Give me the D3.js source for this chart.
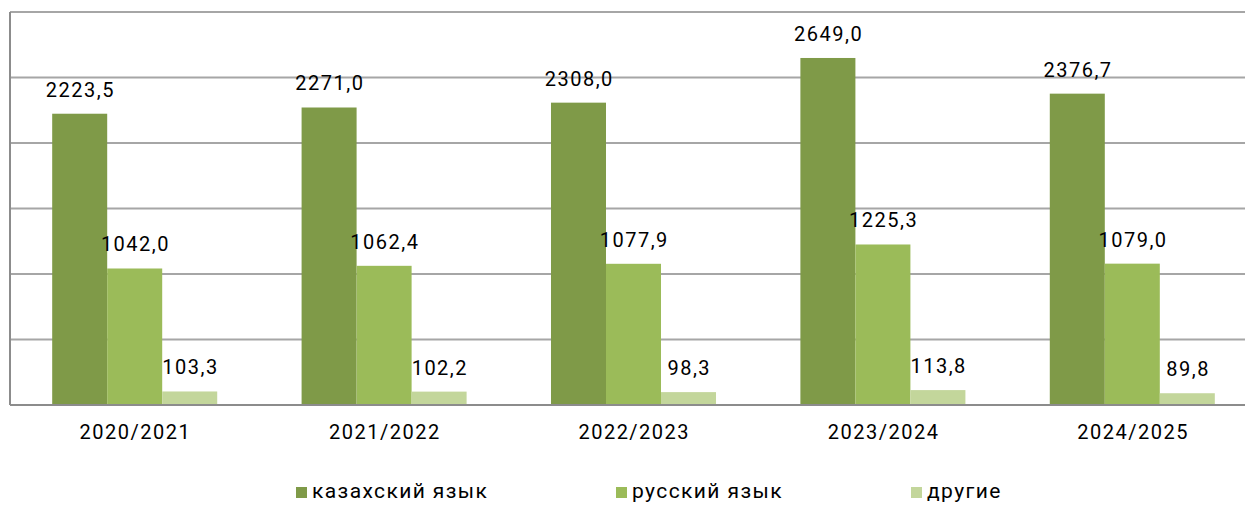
<!DOCTYPE html>
<html><head><meta charset="utf-8">
<script src="https://cdn.jsdelivr.net/npm/d3@7"></script>
<style>body{margin:0;background:#fff;}svg{display:block;font-family:Roboto,"Noto Sans",sans-serif;}</style>
</head><body><svg id="c" width="1245" height="505"></svg>
<script>
const categories = ["2020/2021","2021/2022","2022/2023","2023/2024","2024/2025"];
const seriesNames = ["казахский язык","русский язык","другие"];
const kazakh = [2223.5, 2271.0, 2308.0, 2649.0, 2376.7];
const russian = [1042.0, 1062.4, 1077.9, 1225.3, 1079.0];
const other = [103.3, 102.2, 98.3, 113.8, 89.8];
const yTicks = [0, 500, 1000, 1500, 2000, 2500, 3000];
const colors = ["#7f9a48", "#9bbb59", "#c3d69b"];

const series = [kazakh, russian, other];
const svg = d3.select("#c");
const pLeft = 10, pRight = 1257, pTop = 12, pBottom = 405;
const LS = 1.5;
const x0 = d3.scaleBand().domain(categories).range([pLeft, pRight]).padding(0);
const x1 = d3.scaleBand().domain(seriesNames).range([0, x0.bandwidth()]).paddingInner(0).paddingOuter(0.767);
const y = d3.scaleLinear().domain([0, 3000]).range([pBottom, pTop]);

// gridlines
svg.append("g").selectAll("line").data(yTicks.filter(d => d > 0)).join("line")
  .attr("x1", pLeft).attr("x2", 1245).attr("y1", d => y(d)).attr("y2", d => y(d))
  .attr("stroke", "#a6a6a6").attr("stroke-width", 2);

// bars
const fmt = v => v.toFixed(1).replace(".", ",");
seriesNames.forEach((s, si) => {
  const g = svg.append("g");
  g.selectAll("rect").data(series[si]).join("rect")
    .attr("x", (d, i) => x0(categories[i]) + x1(s))
    .attr("y", d => y(d)).attr("width", x1.bandwidth()).attr("height", d => y(0) - y(d))
    .attr("fill", colors[si]);
  g.selectAll("text").data(series[si]).join("text")
    .attr("x", (d, i) => x0(categories[i]) + x1(s) + x1.bandwidth() / 2 + LS / 2)
    .attr("y", d => y(d) - 17).attr("text-anchor", "middle")
    .attr("font-size", 20).attr("letter-spacing", LS).attr("fill", "#000").text(fmt);
});

// axes lines
svg.append("line").attr("x1", pLeft).attr("x2", pLeft).attr("y1", pTop).attr("y2", pBottom)
  .attr("stroke", "#8c8c8c").attr("stroke-width", 2);
svg.append("line").attr("x1", pLeft).attr("x2", 1245).attr("y1", pBottom).attr("y2", pBottom)
  .attr("stroke", "#8c8c8c").attr("stroke-width", 2);

// category labels
const xAxis = d3.axisBottom(x0).tickSize(0).tickPadding(20);
const ax = svg.append("g").attr("transform", `translate(0,${pBottom})`).call(xAxis);
ax.select(".domain").remove();
ax.selectAll("text").attr("font-size", 20).attr("letter-spacing", LS).attr("dx", LS / 2)
  .attr("fill", "#000").attr("font-family", "Roboto,'Noto Sans',sans-serif");

// legend
const legendX = [296, 616, 911];
const lg = svg.append("g");
seriesNames.forEach((s, i) => {
  lg.append("rect").attr("x", legendX[i]).attr("y", 487).attr("width", 11).attr("height", 11).attr("fill", colors[i]);
  lg.append("text").attr("x", legendX[i] + 16).attr("y", 498).attr("font-size", 21).attr("letter-spacing", 1.4)
    .attr("fill", "#000").text(s);
});
</script></body></html>
